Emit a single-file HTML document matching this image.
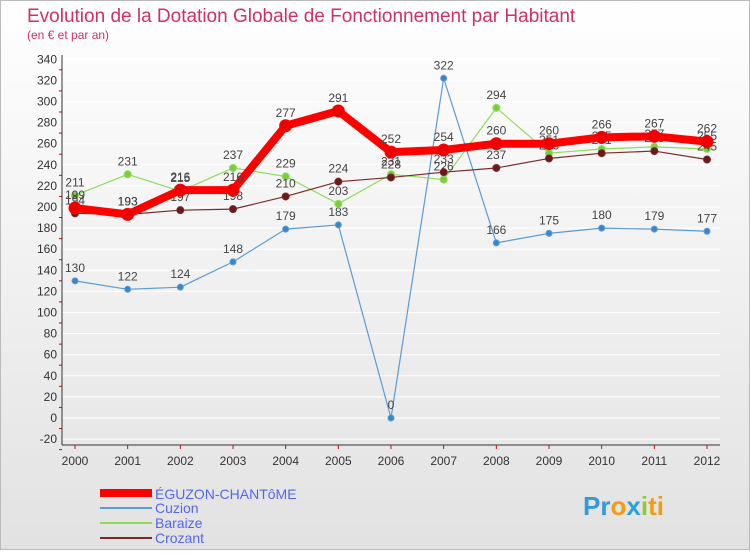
<!DOCTYPE html>
<html><head><meta charset="utf-8"><style>
body{margin:0;width:750px;height:550px;overflow:hidden;font-family:"Liberation Sans",sans-serif}
</style></head><body>
<svg id="c" width="750" height="550" xmlns="http://www.w3.org/2000/svg">
<defs><linearGradient id="bg" x1="0" y1="0" x2="0" y2="1"><stop offset="0" stop-color="#ffffff"/><stop offset="1" stop-color="#e2e2e2"/></linearGradient></defs>
<rect x="0.5" y="0.5" width="749" height="549" fill="url(#bg)" stroke="#bbb"/>
<text x="27" y="22" font-size="19" fill="#d0306a">Evolution de la Dotation Globale de Fonctionnement par Habitant</text>
<text x="27" y="39" font-size="12" fill="#d0306a">(en € et par an)</text>
<g id="axes"></g><g id="series"></g>
<g font-size="14" fill="#5566ee">
<line x1="100" y1="493" x2="152" y2="493" stroke="#f00" stroke-width="8"/>
<text x="155" y="499">ÉGUZON-CHANTôME</text>
<line x1="100" y1="508" x2="152" y2="508" stroke="#5b9bd5" stroke-width="2"/>
<text x="155" y="513">Cuzion</text>
<line x1="100" y1="523" x2="152" y2="523" stroke="#8fdc5a" stroke-width="2"/>
<text x="155" y="528">Baraize</text>
<line x1="100" y1="538" x2="152" y2="538" stroke="#7a2a2a" stroke-width="2"/>
<text x="155" y="543">Crozant</text>
</g>
<text x="583" y="515" font-size="26" font-weight="bold"><tspan fill="#3399dd">Pr</tspan><tspan fill="#f39c12">o</tspan><tspan fill="#2aa0dd">x</tspan><tspan fill="#8fcc33">i</tspan><tspan fill="#f39c12">ti</tspan></text>
</svg>
<script>
const years=["2000","2001","2002","2003","2004","2005","2006","2007","2008","2009","2010","2011","2012"];
const yTicks=[-20,0,20,40,60,80,100,120,140,160,180,200,220,240,260,280,300,320,340];
const eguzon=[199,193,216,216,277,291,252,254,260,260,266,267,262];
const cuzion=[130,122,124,148,179,183,0,322,166,175,180,179,177];
const baraize=[211,231,215,237,229,203,231,226,294,251,255,257,255];
const crozant=[194,193,197,198,210,224,228,233,237,246,251,253,245];
const NS="http://www.w3.org/2000/svg";
const xS=i=>75+i*(707-75)/(years.length-1);
const yS=v=>418-v*(418-207)/200;
function mk(t,a,p){const e=document.createElementNS(NS,t);for(const k in a)e.setAttribute(k,a[k]);p.appendChild(e);return e;}
const ax=document.getElementById('axes');
yTicks.forEach(v=>{
 const g=mk('line',{x1:62,x2:720,y1:yS(v),y2:yS(v),stroke:'#ffffff','stroke-width':1},ax);
 
 
 const t=mk('text',{x:57,y:yS(v)+4,'font-size':12,'text-anchor':'end',fill:'#333'},ax);t.textContent=v;
 
 
 mk('line',{x1:59,x2:62,y1:yS(v)+10.5,y2:yS(v)+10.5,stroke:'#d00'},ax);
});
const ya=mk('line',{x1:62,x2:62,y1:55,y2:445,stroke:'#333'},ax);


const xa=mk('line',{x1:62,x2:720,y1:445,y2:445,stroke:'#333'},ax);


years.forEach((y,i)=>{
 const t=mk('text',{x:xS(i),y:465,'font-size':12,'text-anchor':'middle',fill:'#333'},ax);t.textContent=y;
 
 
 mk('line',{x1:xS(i),x2:xS(i),y1:445,y2:449,stroke:'#d00'},ax);
});
const sg=document.getElementById('series');
function draw(name,data,color,w,r,dot){
 const g=mk('g',{},sg);
 
 
 const p=mk('polyline',{points:data.map((v,i)=>xS(i)+','+yS(v)).join(' '),fill:'none',stroke:color,'stroke-width':w,'stroke-linejoin':'round'},g);
 
 
 data.forEach((v,i)=>{
  const c=mk('circle',{cx:xS(i),cy:yS(v),r:r,fill:dot,stroke:color,'stroke-width':1},g);
  
  
  const t=mk('text',{x:xS(i),y:yS(v)-9,'font-size':12,'text-anchor':'middle',fill:'#444'},g);t.textContent=v;
  
  
 });
}
draw('cuzion',cuzion,'#5b9bd5',1.2,3,'#3a85c8');
draw('baraize',baraize,'#8fdc5a',1.2,3.5,'#7acc40');
draw('crozant',crozant,'#7a2a2a',1.2,3.5,'#6a1a1a');
draw('eguzon',eguzon,'#ff0000',8,6,'#ee0000');
</script>
</body></html>
